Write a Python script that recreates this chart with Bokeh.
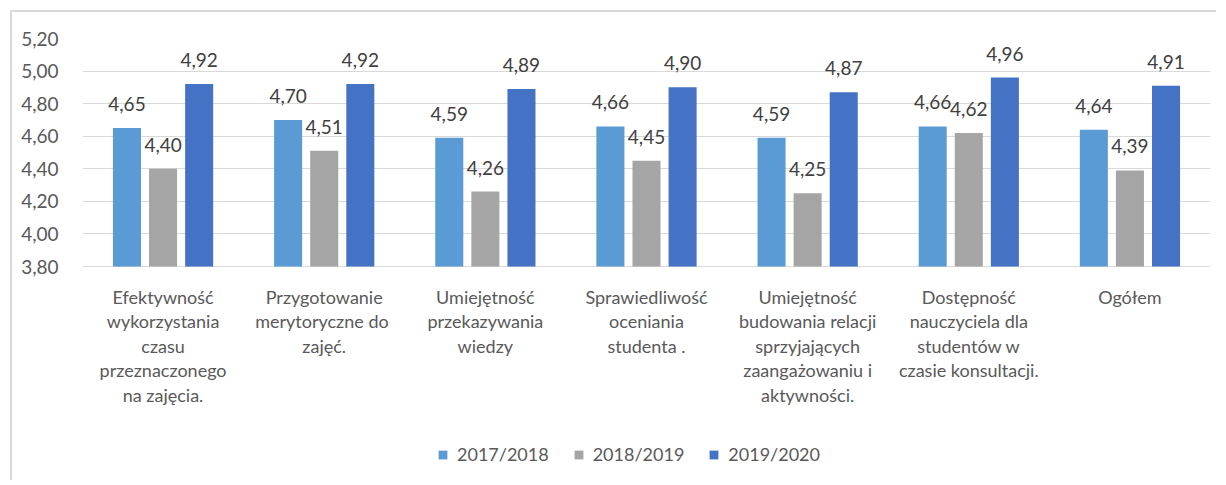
from bokeh.plotting import figure
from bokeh.models import FactorRange, Range1d, Legend, LegendItem, FixedTicker, CustomJSTickFormatter, ColumnDataSource, LabelSet
from bokeh.core.properties import value
from bokeh.embed import file_html
from bokeh.resources import INLINE
from bokeh.transform import dodge

categories = [
    "Efektywność\nwykorzystania\nczasu\nprzeznaczonego\nna zajęcia.",
    "Przygotowanie\nmerytoryczne  do\nzajęć.",
    "Umiejętność\nprzekazywania\nwiedzy",
    "Sprawiedliwość\noceniania\nstudenta .",
    "Umiejętność\nbudowania relacji\nsprzyjających\nzaangażowaniu i\naktywności.",
    "Dostępność\nnauczyciela dla\nstudentów w\nczasie konsultacji.",
    "Ogółem",
]
series_names = ["2017/2018", "2018/2019", "2019/2020"]
v2017 = [4.65, 4.70, 4.59, 4.66, 4.59, 4.66, 4.64]
v2018 = [4.40, 4.51, 4.26, 4.45, 4.25, 4.62, 4.39]
v2019 = [4.92, 4.92, 4.89, 4.90, 4.87, 4.96, 4.91]
y_ticks = [3.8, 4.0, 4.2, 4.4, 4.6, 4.8, 5.0, 5.2]

colors = ["#5B9BD5", "#A5A5A5", "#4472C4"]
FONT = "Lato"
Y_MIN, Y_MAX = 3.8, 5.2

# layout (pixels)
CANVAS_W, CANVAS_H = 1206, 470
BORDER_L, BORDER_R, BORDER_T = 70, 8, 26
PLOT_H = 228                      # height of the 3.80..5.20 band
FRAME_H = CANVAS_H - BORDER_T     # frame extends to the canvas bottom
y_bottom = Y_MAX - FRAME_H * (Y_MAX - Y_MIN) / PLOT_H

p = figure(
    x_range=FactorRange(*categories, range_padding=0),
    y_range=Range1d(y_bottom, Y_MAX),
    width=CANVAS_W, height=CANVAS_H,
    output_backend="svg", toolbar_location=None,
    min_border_left=BORDER_L, min_border_right=BORDER_R, min_border_top=BORDER_T, min_border_bottom=0,
)
p.styles = {"margin-left": "10px", "margin-top": "10px",
            "border-left": "2px solid #d9d9d9", "border-top": "2px solid #d9d9d9"}
p.outline_line_color = None
p.background_fill_color = "white"

src = ColumnDataSource(dict(
    cat=categories, a=v2017, b=v2018, c=v2019,
    base=[Y_MIN] * len(categories),
    la=[f"{v:.2f}".replace(".", ",") for v in v2017],
    lb=[f"{v:.2f}".replace(".", ",") for v in v2018],
    lc=[f"{v:.2f}".replace(".", ",") for v in v2019],
))

offsets = [-0.224, 0.0, 0.224]
fields = ["a", "b", "c"]
lfields = ["la", "lb", "lc"]
renderers = []
for off, f, lf, col in zip(offsets, fields, lfields, colors):
    r = p.vbar(x=dodge("cat", off, range=p.x_range), top=f, bottom=Y_MIN, width=0.174,
               source=src, fill_color=col, line_color=None)
    renderers.append(r)
    lab = LabelSet(x=dodge("cat", off, range=p.x_range), y=f, text=lf, source=src,
                   text_align="center", text_baseline="alphabetic", y_offset=17,
                   text_font=value(FONT), text_font_size="19px", text_color="#404040")
    p.add_layout(lab)

# category labels below the 3.80 line
p.text(x="cat", y="base", text="cat", source=src,
       text_align="center", text_baseline="top", y_offset=19,
       text_font=value(FONT), text_font_size="18px", text_color="#595959",
       text_line_height=1.12)

p.yaxis.ticker = FixedTicker(ticks=y_ticks)
p.yaxis.formatter = CustomJSTickFormatter(code="return tick.toFixed(2).replace('.', ',');")
p.yaxis.axis_line_color = None
p.yaxis.major_tick_line_color = None
p.yaxis.minor_tick_line_color = None
p.yaxis.major_label_text_font = FONT
p.yaxis.major_label_text_font_size = "19px"
p.yaxis.major_label_text_color = "#595959"
p.yaxis.major_label_standoff = 18

p.xaxis.visible = False

p.xgrid.grid_line_color = None
p.ygrid.grid_line_color = "#D9D9D9"
p.ygrid.ticker = FixedTicker(ticks=y_ticks)

legend = Legend(
    items=[LegendItem(label=n, renderers=[r]) for n, r in zip(series_names, renderers)],
    orientation="horizontal", location=(355, 17),
    label_text_font=FONT, label_text_font_size="18px", label_text_color="#595959",
    glyph_width=11, glyph_height=11, spacing=24, label_standoff=9,
    border_line_color=None, background_fill_alpha=0, margin=0, padding=4,
)
p.add_layout(legend, "center")

open("out.html", "w").write(file_html(p, INLINE))
